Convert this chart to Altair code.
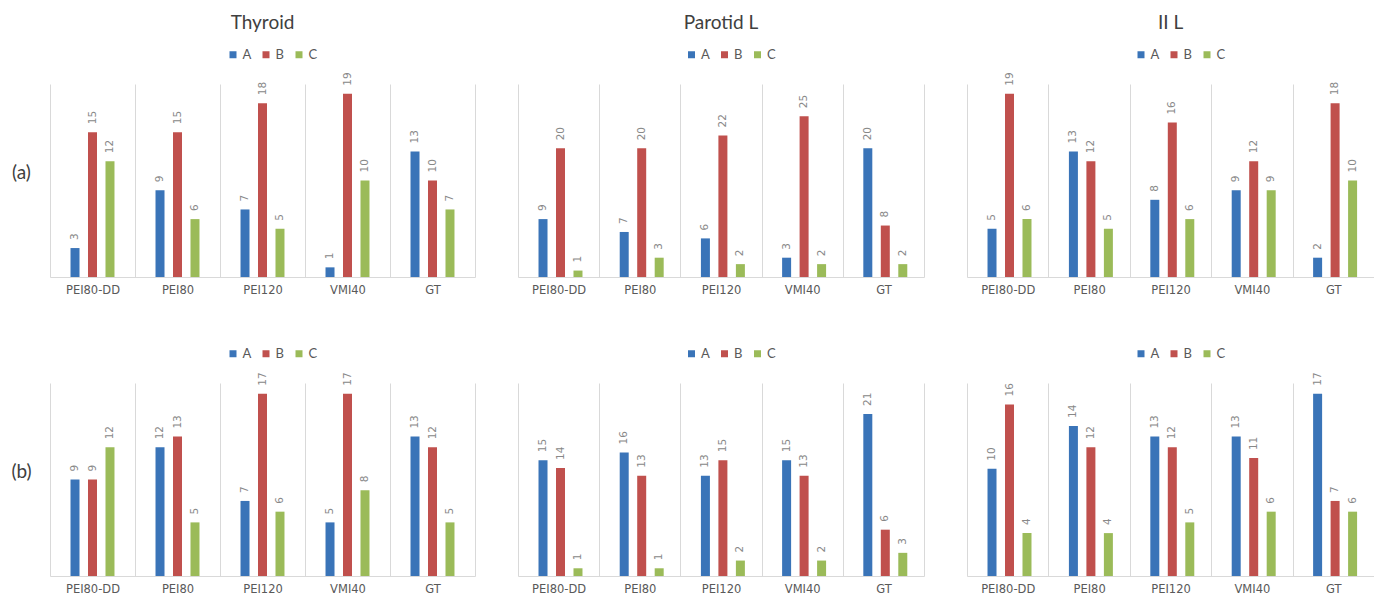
import altair as alt
import pandas as pd

categories = ["PEI80-DD", "PEI80", "PEI120", "VMI40", "GT"]
series = ["A", "B", "C"]
colors = ["#3a74b8", "#c0504d", "#9bbb59"]
panel_titles = ["Thyroid", "Parotid L", "II L"]
row_labels = ["(a)", "(b)"]

# row (a)
thyroid_a_A = [3, 9, 7, 1, 13]
thyroid_a_B = [15, 15, 18, 19, 10]
thyroid_a_C = [12, 6, 5, 10, 7]
parotid_a_A = [9, 7, 6, 3, 20]
parotid_a_B = [20, 20, 22, 25, 8]
parotid_a_C = [1, 3, 2, 2, 2]
iil_a_A = [5, 13, 8, 9, 2]
iil_a_B = [19, 12, 16, 12, 18]
iil_a_C = [6, 5, 6, 9, 10]
# row (b)
thyroid_b_A = [9, 12, 7, 5, 13]
thyroid_b_B = [9, 13, 17, 17, 12]
thyroid_b_C = [12, 5, 6, 8, 5]
parotid_b_A = [15, 16, 13, 15, 21]
parotid_b_B = [14, 13, 15, 13, 6]
parotid_b_C = [1, 1, 2, 2, 3]
iil_b_A = [10, 14, 13, 13, 17]
iil_b_B = [16, 12, 12, 11, 7]
iil_b_C = [4, 4, 5, 6, 6]

y_max_a = [20, 30, 20]
y_max_b = [18, 25, 18]
panel_widths = [425, 406, 407]
PLOT_H = 193

rows = [
    [(thyroid_a_A, thyroid_a_B, thyroid_a_C),
     (parotid_a_A, parotid_a_B, parotid_a_C),
     (iil_a_A, iil_a_B, iil_a_C)],
    [(thyroid_b_A, thyroid_b_B, thyroid_b_C),
     (parotid_b_A, parotid_b_B, parotid_b_C),
     (iil_b_A, iil_b_B, iil_b_C)],
]
y_max = [y_max_a, y_max_b]

TEXT_FONT = "Lato"


def make_df(vals):
    recs = []
    for s, arr in zip(series, vals):
        for c, v in zip(categories, arr):
            recs.append({"cat": c, "series": s, "value": v})
    return pd.DataFrame(recs)


def panel(vals, r, c):
    w = panel_widths[c]
    df = make_df(vals)
    if c == 0:
        yaxis = alt.Axis(
            title=row_labels[r], titleAngle=0, labels=False, ticks=False,
            domain=False, grid=False, titleX=-29, titleY=88,
            titleFontSize=19, titleFont=TEXT_FONT, titleFontWeight="normal",
            titleColor="#404040", titleAlign="center", titleBaseline="middle",
        )
    else:
        yaxis = None
    base = alt.Chart(df).encode(
        x=alt.X("cat:N", sort=categories,
                scale=alt.Scale(paddingInner=0, paddingOuter=0),
                axis=alt.Axis(title=None, labelAngle=0, tickBand="extent",
                              grid=True, gridColor="#d9d9d9", gridWidth=1,
                              domainColor="#d9d9d9", ticks=False,
                              labelFont="DejaVu Sans", labelFontSize=11.5,
                              labelColor="#595959", labelPadding=7)),
        xOffset=alt.XOffset("series:N", sort=series,
                            scale=alt.Scale(paddingInner=0, paddingOuter=0.93)),
        y=alt.Y("value:Q", scale=alt.Scale(domain=[0, y_max[r][c]], nice=False),
                axis=yaxis),
    )
    bars = base.mark_bar(width=9).encode(
        color=alt.Color("series:N", sort=series,
                        scale=alt.Scale(domain=series, range=colors),
                        legend=alt.Legend(
                            title=None, orient="none", direction="horizontal",
                            legendX=w / 2 - 36, legendY=-36,
                            symbolType="square", symbolSize=49,
                            symbolStrokeWidth=0, labelFont=TEXT_FONT,
                            labelFontSize=13, labelColor="#595959",
                            labelOffset=3, columnPadding=8)),
    )
    text = base.mark_text(angle=270, align="left", baseline="middle", dx=8,
                          color="#888888", font="DejaVu Sans",
                          fontSize=10.5).encode(text="value:Q")
    props = dict(width=w, height=PLOT_H)
    if r == 0:
        props["title"] = alt.TitleParams(
            panel_titles[c], fontSize=19, font=TEXT_FONT, fontWeight="normal",
            color="#404040", anchor="middle", offset=15)
    return alt.layer(bars, text).properties(**props)


row_charts = []
for r in range(2):
    row_charts.append(
        alt.hconcat(*[panel(rows[r][c], r, c) for c in range(3)], spacing=43)
        .resolve_scale(y="independent", color="independent")
        .resolve_legend(color="independent")
    )

chart = (
    alt.vconcat(*row_charts, spacing=51)
    .resolve_scale(y="independent", color="independent")
    .resolve_legend(color="independent")
    .properties(padding={"left": 10, "top": 14, "right": 0, "bottom": 0},
                background="white")
    .configure_view(strokeWidth=0)
)

chart.save("out.html", embed_options={"renderer": "svg", "actions": False})
